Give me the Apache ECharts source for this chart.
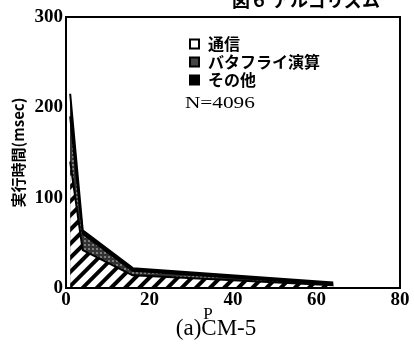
<!DOCTYPE html>
<html><head><meta charset="utf-8">
<script src="https://cdn.jsdelivr.net/npm/echarts@6/dist/echarts.min.js"></script>
<style>html,body{margin:0;padding:0;background:#fff}#c{width:414px;height:352px}</style>
</head><body><div id="c"></div>
<script>
const P = [1, 4, 16, 64];
const seriesNames = ['通信', 'バタフライ演算', 'その他'];
const comm = [140, 42, 14, 3];
const butterfly = [50, 18, 5, 1];
const other = [25, 4, 3, 2];
const xTicks = [0, 20, 40, 60, 80];
const yTicks = [0, 100, 200, 300];

// cumulative tops of each layer (stack computed here, drawn via the axes)
const cum1 = comm.slice();
const cum2 = comm.map((v, i) => v + butterfly[i]);
const cum3 = cum2.map((v, i) => v + other[i]);
const pairs = arr => P.map((p, i) => [p, arr[i]]);
const serif = '"Liberation Serif", "DejaVu Serif", serif';
const cjk = '"Noto Sans CJK JP", sans-serif';

const chart = echarts.init(document.getElementById('c'));
const mk = (name, data, color, decal, z) => ({
  name, type: 'line', data: pairs(data),
  showSymbol: false, symbol: 'none',
  lineStyle: { color: '#000', width: 2 },
  itemStyle: { color: color, decal: decal },
  areaStyle: { color: color, opacity: 1, origin: 'start' },
  z: z
});
chart.setOption({
  animation: false,
  backgroundColor: '#fff',
  aria: { enabled: false },
  grid: { left: 66, right: 14, top: 17, bottom: 64, show: true, borderColor: '#000', borderWidth: 2, backgroundColor: 'transparent' },
  xAxis: {
    type: 'value', min: xTicks[0], max: xTicks[xTicks.length - 1], interval: 20,
    axisLine: { show: true, lineStyle: { color: '#000', width: 2 } },
    axisTick: { show: false }, splitLine: { show: false },
    axisLabel: { color: '#000', fontFamily: serif, fontWeight: 'bold', fontSize: 19, margin: 3 },
    z: 5
  },
  yAxis: {
    type: 'value', min: yTicks[0], max: yTicks[yTicks.length - 1], interval: 100,
    axisLine: { show: true, lineStyle: { color: '#000', width: 2 } },
    axisTick: { show: false }, splitLine: { show: false },
    axisLabel: { color: '#000', fontFamily: serif, fontWeight: 'bold', fontSize: 19, margin: 3 },
    name: '実行時間(msec)', nameLocation: 'middle', nameGap: 40, nameRotate: 90, nameMoveOverlap: false,
    nameTextStyle: { color: '#000', fontFamily: cjk, fontWeight: 'bold', fontSize: 15 },
    z: 5
  },
  legend: {
    orient: 'vertical', left: 184, top: 31, itemWidth: 9, itemHeight: 9, itemGap: 2,
    icon: 'rect',
    textStyle: { color: '#000', fontFamily: cjk, fontWeight: 'bold', fontSize: 16, padding: [0, 0, 0, 4] },
    data: [
      { name: seriesNames[0], itemStyle: { color: '#fff', borderColor: '#000', borderWidth: 2, decal: 'none' } },
      { name: seriesNames[1], itemStyle: { color: '#444', borderColor: '#000', borderWidth: 2, decal: 'none' } },
      { name: seriesNames[2], itemStyle: { color: '#000', borderColor: '#000', borderWidth: 2, decal: 'none' } }
    ]
  },
  series: [
    mk(seriesNames[2], cum3, '#000', null, 1),
    mk(seriesNames[1], cum2, '#333', { symbol: 'circle', color: '#fff', symbolSize: 0.7, dashArrayX: [[2, 2]], dashArrayY: [2, 2] }, 2),
    mk(seriesNames[0], cum1, '#fff', { symbol: 'rect', color: '#000', dashArrayX: [1, 0], dashArrayY: [4, 6], rotation: -Math.PI / 4 }, 3)
  ],
  graphic: [
    { type: 'text', x: 185, y: 95, scaleX: 1.25, style: { text: 'N=4096', font: '17px ' + serif, fill: '#000' } },
    { type: 'text', x: 208, y: 306, style: { text: 'P', font: '17px ' + serif, fill: '#000', textAlign: 'center' } },
    { type: 'text', x: 216, y: 317, style: { text: '(a)CM-5', font: '23px ' + serif, fill: '#000', textAlign: 'center' } },
    { type: 'text', x: 232, y: -9, style: { text: '図６ アルゴリズム', font: 'bold 18px ' + cjk, fill: '#000' } }
  ]
});
</script></body></html>
